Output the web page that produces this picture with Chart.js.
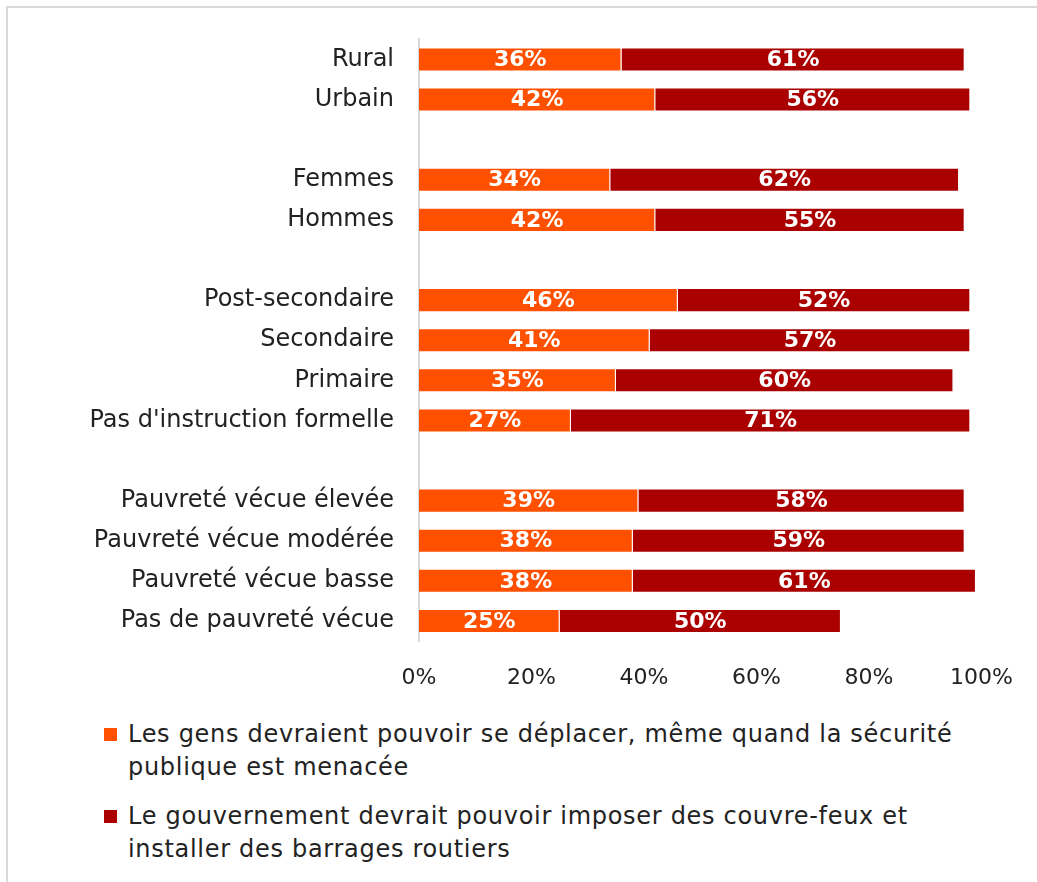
<!DOCTYPE html>
<html>
<head>
<meta charset="utf-8">
<script src="https://cdn.jsdelivr.net/npm/chart.js@4"></script>
<style>
  html, body { margin: 0; padding: 0; background: #fff; overflow: hidden; }
  #wrap { position: relative; width: 1037px; height: 882px; overflow: hidden; }
  #frame { position: absolute; left: 6px; top: 6px; width: 1100px; height: 1000px;
           border-left: 2px solid #d9d9d9; border-top: 2px solid #d9d9d9; }
  #chart { position: absolute; left: 0; top: 0; }
  #legend { position: absolute; left: 104px; top: 718px; font-family: "DejaVu Sans", sans-serif;
            font-size: 24px; letter-spacing: 0.7px; color: #222; line-height: 33px; white-space: nowrap; }
  .item { position: relative; padding-left: 24px; margin-bottom: 16px; }
  .box { position: absolute; left: 0; top: 10px; width: 13px; height: 13px; }
</style>
</head>
<body>
<div id="wrap">
  <div id="frame"></div>
  <canvas id="chart" width="1037" height="700"></canvas>
  <div id="legend"></div>
</div>
<script>
// empty strings are spacer rows between groups
var categories = ['Rural', 'Urbain', '', 'Femmes', 'Hommes', '',
  'Post-secondaire', 'Secondaire', 'Primaire', "Pas d'instruction formelle", '',
  'Pauvreté vécue élevée', 'Pauvreté vécue modérée', 'Pauvreté vécue basse', 'Pas de pauvreté vécue'];

var deplacer = [36, 42, null, 34, 42, null, 46, 41, 35, 27, null, 39, 38, 38, 25];
var couvreFeux = [61, 56, null, 62, 55, null, 52, 57, 60, 71, null, 58, 59, 61, 50];

var xTicks = [0, 20, 40, 60, 80, 100];

var legendLines = [
  ['Les gens devraient pouvoir se déplacer, même quand la sécurité', 'publique est menacée'],
  ['Le gouvernement devrait pouvoir imposer des couvre-feux et', 'installer des barrages routiers']
];

var ORANGE = '#ff5000';
var RED = '#aa0000';
var FONT = '"DejaVu Sans", sans-serif';

// white percentage text centred in each segment
var barLabels = {
  id: 'barLabels',
  afterDatasetsDraw: function(chart) {
    var ctx = chart.ctx;
    ctx.save();
    ctx.fillStyle = '#fff';
    ctx.font = 'bold 22px ' + FONT;
    ctx.textAlign = 'center';
    ctx.textBaseline = 'middle';
    chart.data.datasets.forEach(function(ds, i) {
      chart.getDatasetMeta(i).data.forEach(function(bar, j) {
        var v = ds.data[j];
        if (v == null) return;
        var c = bar.getCenterPoint();
        ctx.fillText(v + '%', c.x, c.y + 1);
      });
    });
    ctx.restore();
  }
};

var chart = new Chart(document.getElementById('chart'), {
  type: 'bar',
  data: {
    labels: categories,
    datasets: [
      { label: legendLines[0].join(' '), data: deplacer, backgroundColor: ORANGE,
        borderColor: 'rgba(255,255,255,0.5)', borderWidth: 1 },
      { label: legendLines[1].join(' '), data: couvreFeux, backgroundColor: RED,
        borderColor: 'rgba(255,255,255,0.5)', borderWidth: 1 }
    ]
  },
  options: {
    indexAxis: 'y',
    responsive: false,
    animation: false,
    layout: { padding: { top: 36, right: 50, left: 0, bottom: 0 } },
    datasets: { bar: { categoryPercentage: 0.6, barPercentage: 1 } },
    plugins: { legend: { display: false }, tooltip: { enabled: false } },
    scales: {
      x: {
        stacked: true,
        min: 0, max: 100,
        afterFit: function(s) { s.height = 59; },
        afterBuildTicks: function(s) { s.ticks = xTicks.map(function(v) { return { value: v }; }); },
        grid: { display: false, drawTicks: false },
        border: { display: false },
        ticks: { padding: 24, color: '#222', font: { family: FONT, size: 22 },
                 callback: function(v) { return v + '%'; } }
      },
      y: {
        stacked: true,
        afterFit: function(s) { s.width = 419; },
        grid: { display: false, drawTicks: false },
        border: { display: true, color: '#d9d9d9', width: 2 },
        ticks: { padding: 25, color: '#222', font: { family: FONT, size: 24 }, autoSkip: false }
      }
    }
  },
  plugins: [barLabels]
});

// legend built from the datasets, lines split as in the layout
var legend = document.getElementById('legend');
chart.data.datasets.forEach(function(ds, i) {
  var item = document.createElement('div');
  item.className = 'item';
  var box = document.createElement('span');
  box.className = 'box';
  box.style.background = ds.backgroundColor;
  item.appendChild(box);
  legendLines[i].forEach(function(line, k) {
    if (k) item.appendChild(document.createElement('br'));
    item.appendChild(document.createTextNode(line));
  });
  legend.appendChild(item);
});
</script>
</body>
</html>
